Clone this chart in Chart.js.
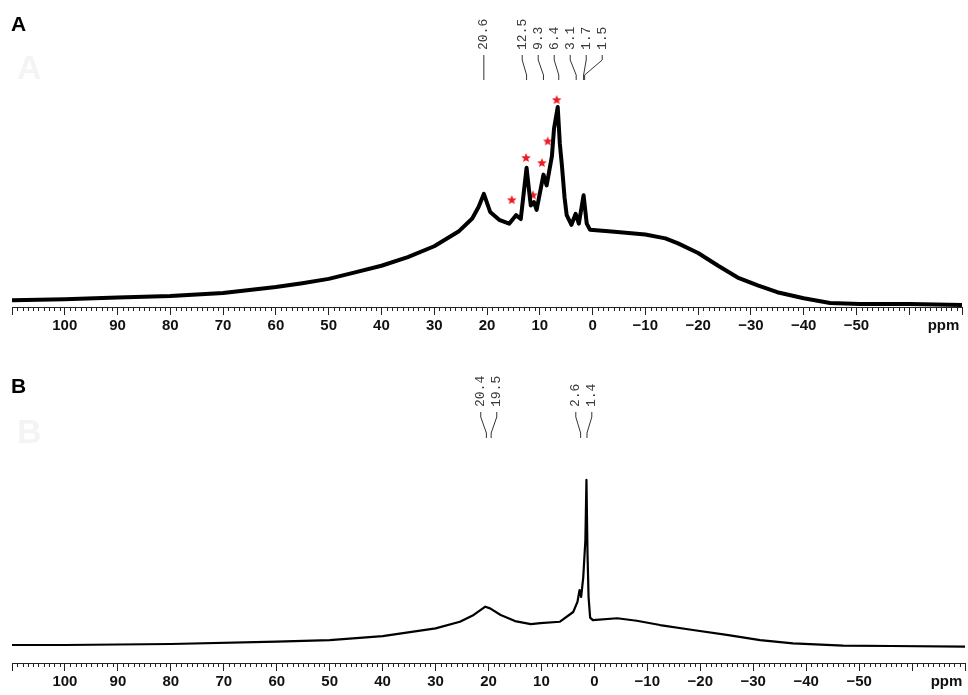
<!DOCTYPE html>
<html>
<head>
<meta charset="utf-8">
<script src="https://cdn.jsdelivr.net/npm/chart.js@4.4.1/dist/chart.umd.min.js"></script>
<style>
body { margin: 0; background: #fff; }
#wrap { position: relative; width: 968px; height: 695px; overflow: hidden; }
canvas { position: absolute; left: 0; }
.panel { position: absolute; left: 11px; font: bold 21px 'Liberation Sans', Arial, sans-serif; color: #000; }
.ghost { position: absolute; left: 17px; font: bold 34px 'Liberation Sans', Arial, sans-serif; color: #f4f4f4; }
</style>
</head>
<body>
<div id="wrap">
    <canvas id="specA" width="968" height="340" style="top:0"></canvas>
    <canvas id="specB" width="968" height="355" style="top:340px"></canvas>
    <div class="ghost" style="top:48px">A</div>
    <div class="ghost" style="top:412px">B</div>
    <div class="panel" style="top:12px">A</div>
    <div class="panel" style="top:374px">B</div>
</div>
<script>
// spectrum A (ppm / relative intensity)
const ppmA = [110, 100, 90, 80, 70, 60, 55, 50, 45, 40, 35, 30, 25.4, 22.8, 21.6, 20.6, 19.4, 17.7, 15.8, 14.5, 13.6, 12.5, 12, 11.7, 11.1, 10.6,
    9.3, 8.7, 7.7, 7.3, 6.6, 6.2, 5.8, 5.3, 4.9, 4.0, 3.2, 2.6, 1.7, 1.1, 0.5, -3.6, -10, -13.8, -16.2, -20, -23.8, -27.5, -31.3, -35, -40, -45, -50.7, -60, -70];
const intensityA = [0, 0.4, 1.4, 2.2, 3.7, 6.8, 8.8, 11, 14.4, 17.8, 22.3, 27.9, 35.5, 42.3, 48.2, 55, 45.7, 41.6, 39.6, 44, 42, 68.5, 56, 49, 50.8, 46.7,
    65, 59.4, 74.6, 88.8, 100, 81, 69.5, 53, 44, 39, 44.7, 39.6, 54.3, 39.6, 36.5, 35.5, 34, 32, 29.4, 24.4, 17.8, 11.7, 7.6, 4.1, 1, -1.5, -2, -2, -2.5];

// peaks marked with red stars in A
const starPpmA = [15.3, 12.6, 11.3, 9.6, 8.5, 6.8];
const starIntensityA = [51.8, 73.6, 54.3, 71, 82.2, 103.6];

// spectrum B
const ppmB = [110, 100, 80, 60, 50, 40, 30, 25.4, 22.8, 20.6, 19.7, 17.7, 15, 12, 10.2, 6.5, 4.0, 3.2, 2.8, 2.5, 2.1, 1.7, 1.5, 1.3, 1.1, 0.8,
    0.3, -4.3, -8, -12.4, -18.6, -25, -31.3, -37.5, -47, -56, -70];
const intensityB = [-0.6, -0.6, 0, 1.4, 2.4, 4.8, 9.5, 13.5, 17.6, 22.6, 21.6, 17.6, 13.9, 12.1, 12.7, 13.5, 19.4, 25.5, 32.7, 28.5, 40.6, 63, 99.4, 55, 28.5, 16,
    14.5, 15.6, 14.1, 11.5, 8.5, 5.5, 2.4, 0.4, -1, -1.2, -1.6];

// peak picking labels
const peakLabelsA = ['20.6', '12.5', '9.3', '6.4', '3.1', '1.7', '1.5'];
const peakLabelsB = ['20.4', '19.5', '2.6', '1.4'];

const AXIS_FAMILY = "'Liberation Sans Narrow', 'Liberation Sans', Arial, sans-serif";

function makeStar(r, color) {
    const c = document.createElement('canvas');
    c.width = c.height = 2 * r + 2;
    const g = c.getContext('2d');
    g.fillStyle = color;
    g.beginPath();
    for (let i = 0; i < 10; i++) {
        const rad = i % 2 === 0 ? r : r * 0.45;
        const a = -Math.PI / 2 + i * Math.PI / 5;
        g.lineTo(r + 1 + rad * Math.cos(a), r + 1 + rad * Math.sin(a));
    }
    g.closePath();
    g.fill();
    return c;
}

// minor ticks under the axis + "ppm" unit
const ppmRuler = {
    id: 'ppmRuler',
    afterDraw(chart) {
        const s = chart.scales.x;
        const ctx = chart.ctx;
        const y0 = chart.chartArea.bottom;
        ctx.save();
        ctx.strokeStyle = '#222';
        ctx.lineWidth = 1;
        ctx.beginPath();
        for (let v = Math.ceil(s.min); v <= s.max; v++) {
            if (v % 10 === 0) continue;
            const x = Math.round(s.getPixelForValue(v)) + 0.5;
            ctx.moveTo(x, y0);
            ctx.lineTo(x, y0 + 4);
        }
        ctx.stroke();
        ctx.fillStyle = '#111';
        ctx.font = 'bold 15px ' + AXIS_FAMILY;
        ctx.textAlign = 'center';
        ctx.textBaseline = 'top';
        ctx.fillText('ppm', s.getPixelForValue(-66.5), y0 + 11);
        ctx.restore();
    }
};

// rotated peak labels with connector lines
const peakLabels = {
    id: 'peakLabels',
    afterDraw(chart, args, opts) {
        const s = chart.scales.x;
        const ctx = chart.ctx;
        const gap = opts.gap;
        const items = opts.labels.map(t => ({ text: t, px: s.getPixelForValue(parseFloat(t)) }))
            .sort((a, b) => a.px - b.px);

        const startOf = g => g.reduce((m, it) => m + it.px, 0) / g.length - (g.length - 1) * gap / 2;
        const groups = [];
        items.forEach(it => {
            groups.push([it]);
            while (groups.length > 1) {
                const last = groups[groups.length - 1];
                const prev = groups[groups.length - 2];
                if (startOf(last) < startOf(prev) + prev.length * gap) {
                    groups.splice(groups.length - 2, 2, prev.concat(last));
                } else break;
            }
        });
        groups.forEach(g => {
            const st = startOf(g);
            g.forEach((it, i) => { it.lx = st + i * gap; });
        });

        ctx.save();
        ctx.strokeStyle = '#333';
        ctx.fillStyle = '#3a3a3a';
        ctx.lineWidth = 1;
        ctx.font = "13px 'Liberation Mono', 'DejaVu Sans Mono', monospace";
        items.forEach(it => {
            const t = opts.lineTop, b = opts.lineBottom;
            ctx.beginPath();
            ctx.moveTo(it.lx, t);
            ctx.lineTo(it.lx, t + 5);
            ctx.lineTo(it.px, b - 5);
            ctx.lineTo(it.px, b);
            ctx.stroke();

            ctx.save();
            ctx.translate(it.lx, opts.textBottom);
            ctx.rotate(-Math.PI / 2);
            ctx.textAlign = 'left';
            ctx.textBaseline = 'middle';
            ctx.fillText(it.text, 0, 0);
            ctx.restore();
        });
        ctx.restore();
    }
};

function xScale(axisHeight) {
    return {
        type: 'linear',
        reverse: true,
        min: -70,
        max: 110,
        afterFit: scale => { scale.height = axisHeight; },
        border: { display: true, color: '#222', width: 1 },
        grid: { drawOnChartArea: false, drawTicks: true, tickLength: 8, color: '#222' },
        ticks: {
            stepSize: 10,
            autoSkip: false,
            maxRotation: 0,
            padding: 2,
            color: '#111',
            font: { family: AXIS_FAMILY, size: 15, weight: 'bold' },
            callback: v => (v > 100 || v < -50) ? '' : (v < 0 ? '\u2212' + Math.abs(v) : String(v))
        }
    };
}

function spectrumChart(id, ppm, intensity, opts) {
    const datasets = [{
        data: ppm.map((p, i) => ({ x: p, y: intensity[i] })),
        borderColor: '#000',
        borderWidth: opts.lineWidth,
        pointRadius: 0,
        tension: 0,
        borderJoinStyle: 'round'
    }];
    if (opts.stars) {
        datasets.push({
            data: opts.stars.ppm.map((p, i) => ({ x: p, y: opts.stars.intensity[i] })),
            showLine: false,
            pointStyle: makeStar(5, '#ee1c25'),
            pointRadius: 5
        });
    }
    return new Chart(document.getElementById(id), {
        type: 'line',
        data: { datasets },
        options: {
            responsive: false,
            animation: false,
            layout: { padding: { left: 12, right: 3, top: 0, bottom: 0 } },
            plugins: {
                legend: { display: false },
                tooltip: { enabled: false },
                peakLabels: opts.peaks
            },
            scales: {
                x: xScale(opts.axisHeight),
                y: { display: false, min: opts.yMin, max: opts.yMax }
            }
        },
        plugins: [ppmRuler, peakLabels]
    });
}

spectrumChart('specA', ppmA, intensityA, {
    lineWidth: 4,
    axisHeight: 33,
    yMin: -3.55,
    yMax: 152.3,
    stars: { ppm: starPpmA, intensity: starIntensityA },
    peaks: { labels: peakLabelsA, gap: 16, textBottom: 50, lineTop: 55, lineBottom: 80 }
});

spectrumChart('specB', ppmB, intensityB, {
    lineWidth: 2.2,
    axisHeight: 32,
    yMin: -11.5,
    yMax: 184.2,
    peaks: { labels: peakLabelsB, gap: 16, textBottom: 67, lineTop: 72, lineBottom: 98 }
});
</script>
</body>
</html>
